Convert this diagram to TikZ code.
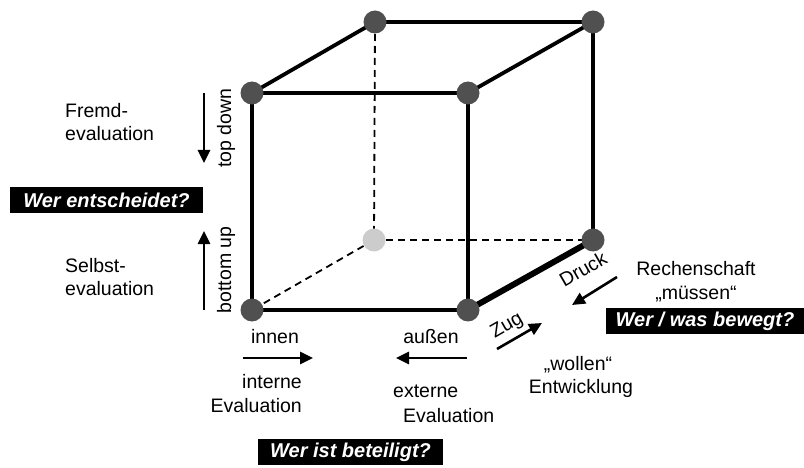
\documentclass[tikz,border=0pt]{standalone}
\usepackage{fontspec}
\setmainfont{Liberation Sans}
\usetikzlibrary{arrows.meta}
\definecolor{dotgray}{RGB}{80,80,80}
\definecolor{lightdot}{RGB}{204,204,204}
\begin{document}
\begin{tikzpicture}[x=1pt,y=-1pt,
  every node/.style={font=\fontsize{19.5}{23.5}\selectfont, inner sep=0pt},
  edge/.style={line width=3.8pt, line cap=round},
  thickedge/.style={line width=6pt, line cap=round},
  hidden/.style={line width=1.8pt, dash pattern=on 7pt off 5pt},
  vdot/.style={circle, fill=dotgray, minimum size=23pt},
  ldot/.style={circle, fill=lightdot, minimum size=23pt},
  arr/.style={line width=2.6pt, -{Triangle[length=13pt,width=12pt]}},
  qbox/.style={fill=black, text=white, font=\fontsize{20}{24}\selectfont\bfseries\itshape, minimum height=26pt, inner xsep=0pt}
]
\useasboundingbox (0,0) rectangle (804,468);
% cube corners
\coordinate (ftl) at (252,93);
\coordinate (ftr) at (468,93);
\coordinate (fbl) at (252,310);
\coordinate (fbr) at (468,310);
\coordinate (btl) at (375,22);
\coordinate (btr) at (593,22);
\coordinate (bbl) at (374,240);
\coordinate (bbr) at (593,240);
% hidden edges
\draw[hidden] (btl) -- (bbl);
\draw[hidden] (bbl) -- (bbr);
\draw[hidden] (bbl) -- (fbl);
% visible edges
\draw[edge] (ftl) -- (ftr);
\draw[edge] (ftr) -- (fbr);
\draw[edge] (fbr) -- (fbl);
\draw[edge] (fbl) -- (ftl);
\draw[edge] (ftl) -- (btl);
\draw[edge] (btl) -- (btr);
\draw[edge] (btr) -- (ftr);
\draw[edge] (btr) -- (bbr);
\draw[thickedge] (fbr) -- (bbr);
% dots
\node[vdot] (dftl) at (ftl) {};
\node[vdot] (dftr) at (ftr) {};
\node[vdot] (dfbl) at (fbl) {};
\node[vdot] (dfbr) at (fbr) {};
\node[vdot] (dbtl) at (btl) {};
\node[vdot] (dbtr) at (btr) {};
\node[ldot] (dbbl) at (bbl) {};
\node[vdot] (dbbr) at (bbr) {};

% left side
\node[anchor=north west, align=left] (fremd) at (65,103) {Fremd-\\evaluation};
\node[anchor=north west, align=left] (selbst) at (65,258) {Selbst-\\evaluation};
\coordinate (tdA) at (204,93);
\coordinate (tdB) at (204,163);
\draw[arr] (tdA) -- (tdB);
\node[rotate=90] (topdown) at (226,128) {top down};
\coordinate (buA) at (204,310);
\coordinate (buB) at (204,231);
\draw[arr] (buA) -- (buB);
\node[rotate=90] (bottomup) at (226,270) {bottom up};
\node[qbox, minimum width=193pt] (entsch) at (106.5,200) {Wer entscheidet?};

% bottom
\node[anchor=base] (innen) at (275,343) {innen};
\coordinate (inA) at (243,358);
\coordinate (inB) at (313,358);
\draw[arr] (inA) -- (inB);
\node[anchor=base east] (intA) at (302,388) {interne};
\node[anchor=base east] (intB) at (302,412) {Evaluation};
\node[anchor=base] (aussen) at (431,343) {außen};
\coordinate (auA) at (467,358);
\coordinate (auB) at (396,358);
\draw[arr] (auA) -- (auB);
\node[anchor=base west] (extA) at (393,397) {externe};
\node[anchor=base west] (extB) at (403,422) {Evaluation};
\node[qbox, minimum width=185pt] (beteiligt) at (350.5,452) {Wer ist beteiligt?};

% right
\node[rotate=30] (druck) at (583,269) {Druck};
\coordinate (drA) at (617,277);
\coordinate (drB) at (572,305);
\draw[arr] (drA) -- (drB);
\node[rotate=30] (zug) at (507,326) {Zug};
\coordinate (zgA) at (497,349);
\coordinate (zgB) at (542,323);
\draw[arr] (zgA) -- (zgB);
\node[anchor=base] (rechen) at (696,276) {Rechenschaft};
\node[anchor=base] (muessen) at (696,299) {„müssen“};
\node[qbox, minimum width=198pt] (bewegt) at (705,321) {Wer / was bewegt?};
\node[anchor=base] (wollen) at (578,370) {„wollen“};
\node[anchor=base] (entw) at (581,393) {Entwicklung};
\end{tikzpicture}
\end{document}
